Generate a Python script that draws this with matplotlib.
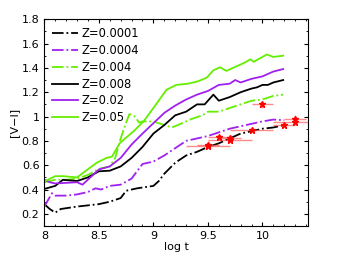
import matplotlib
matplotlib.use("Agg")
import matplotlib.pyplot as plt
from matplotlib.ticker import MultipleLocator

# model colours vs age
t_z0001 = [8.0, 8.05, 8.1, 8.15, 8.3, 8.5, 8.6, 8.7, 8.75, 8.85, 9.0, 9.05, 9.1, 9.2, 9.3,
           9.4, 9.5, 9.6, 9.7, 9.8, 9.9, 10.0, 10.1, 10.2]
vi_z0001 = [0.28, 0.24, 0.21, 0.24, 0.26, 0.28, 0.30, 0.33, 0.39, 0.41, 0.43, 0.47, 0.53, 0.62, 0.68,
            0.71, 0.75, 0.78, 0.82, 0.86, 0.88, 0.90, 0.91, 0.93]

t_z0004 = [8.0, 8.07, 8.1, 8.2, 8.3, 8.4, 8.47, 8.52, 8.6, 8.7, 8.8, 8.85, 8.9, 9.0, 9.1, 9.2,
           9.3, 9.4, 9.5, 9.6, 9.7, 9.8, 9.9, 10.0, 10.1, 10.2]
vi_z0004 = [0.26, 0.37, 0.35, 0.35, 0.36, 0.38, 0.41, 0.40, 0.43, 0.44, 0.49, 0.55, 0.61, 0.63, 0.68, 0.74,
            0.80, 0.82, 0.84, 0.87, 0.90, 0.92, 0.94, 0.96, 0.975, 0.97]

t_z004 = [8.0, 8.1, 8.2, 8.3, 8.4, 8.5, 8.6, 8.65, 8.7, 8.75, 8.78, 8.82, 8.87, 8.9, 9.0, 9.1,
          9.17, 9.25, 9.35, 9.45, 9.5, 9.6, 9.7, 9.8, 9.9, 10.0, 10.1, 10.19]
vi_z004 = [0.46, 0.48, 0.48, 0.49, 0.52, 0.57, 0.59, 0.66, 0.82, 0.95, 1.02, 1.01, 0.95, 0.96, 0.96, 0.93,
           0.91, 0.94, 0.98, 1.01, 1.04, 1.04, 1.07, 1.10, 1.13, 1.14, 1.17, 1.18]

t_z008 = [8.0, 8.1, 8.17, 8.3, 8.4, 8.5, 8.6, 8.7, 8.8, 8.9, 9.0, 9.1, 9.2, 9.3, 9.4, 9.47,
          9.55, 9.6, 9.7, 9.8, 9.9, 9.95, 10.0, 10.05, 10.1, 10.19]
vi_z008 = [0.405, 0.43, 0.48, 0.47, 0.50, 0.55, 0.555, 0.59, 0.66, 0.75, 0.86, 0.93, 1.01, 1.04, 1.10, 1.10,
           1.18, 1.13, 1.16, 1.20, 1.23, 1.24, 1.26, 1.26, 1.28, 1.30]

t_z02 = [8.0, 8.05, 8.1, 8.3, 8.35, 8.5, 8.6, 8.7, 8.8, 8.9, 9.0, 9.1, 9.2, 9.3, 9.4, 9.5,
         9.6, 9.7, 9.75, 9.8, 9.9, 10.0, 10.1, 10.19]
vi_z02 = [0.48, 0.46, 0.45, 0.46, 0.44, 0.565, 0.59, 0.66, 0.77, 0.86, 0.945, 1.03, 1.09, 1.14, 1.18, 1.21,
          1.26, 1.27, 1.30, 1.28, 1.31, 1.33, 1.37, 1.39]

t_z05 = [8.0, 8.1, 8.17, 8.3, 8.48, 8.57, 8.62, 8.69, 8.82, 8.91, 9.0, 9.12, 9.21, 9.32, 9.41, 9.49,
         9.55, 9.61, 9.67, 9.73, 9.83, 9.89, 9.92, 10.04, 10.1, 10.19]
vi_z05 = [0.466, 0.51, 0.51, 0.50, 0.62, 0.66, 0.67, 0.78, 0.88, 0.96, 1.07, 1.22, 1.26, 1.27, 1.29, 1.32,
          1.38, 1.405, 1.375, 1.40, 1.44, 1.47, 1.45, 1.51, 1.49, 1.50]

# observed clusters
obs_t = [9.5, 9.5, 9.6, 9.7, 9.7, 9.9, 10.0, 10.2, 10.3, 10.3]
obs_vi = [0.77, 0.76, 0.83, 0.82, 0.81, 0.89, 1.10, 0.93, 0.98, 0.955]
obs_terr = [0.1, 0.2, 0.1, 0.1, 0.2, 0.2, 0.1, 0.1, 0.1, 0.2]
obs_vierr = [0.03, 0.02, 0.02, 0.03, 0.02, 0.02, 0.03, 0.02, 0.03, 0.02]

green = "#66ee00"
purple = "#a020f0"

fig = plt.figure(figsize=(3.41, 2.56), dpi=100)
ax = fig.add_axes([0.13, 0.117, 0.774, 0.808])

lw = 1.3
ax.plot(t_z0001, vi_z0001, color="black", ls="-.", lw=lw, label="Z=0.0001")
ax.plot(t_z0004, vi_z0004, color=purple, ls="-.", lw=lw, label="Z=0.0004")
ax.plot(t_z004, vi_z004, color=green, ls="-.", lw=lw, label="Z=0.004")
ax.plot(t_z008, vi_z008, color="black", ls="-", lw=lw, label="Z=0.008")
ax.plot(t_z02, vi_z02, color=purple, ls="-", lw=lw, label="Z=0.02")
ax.plot(t_z05, vi_z05, color=green, ls="-", lw=lw, label="Z=0.05")

ax.errorbar(obs_t, obs_vi, xerr=obs_terr, yerr=obs_vierr, fmt="*", color="red",
            ecolor=(1, 0.35, 0.35, 0.7), ms=4.5, elinewidth=1, capsize=0)

ax.set_xlim(8, 10.42)
ax.set_ylim(0.1, 1.8)
ax.xaxis.set_minor_locator(MultipleLocator(0.1))
ax.yaxis.set_minor_locator(MultipleLocator(0.1))
ax.set_xticks([8, 8.5, 9, 9.5, 10])
ax.set_xticklabels(["8", "8.5", "9", "9.5", "10"])
ax.set_yticks([0.2, 0.4, 0.6, 0.8, 1.0, 1.2, 1.4, 1.6, 1.8])
ax.set_yticklabels(["0.2", "0.4", "0.6", "0.8", "1", "1.2", "1.4", "1.6", "1.8"])
ax.tick_params(which="both", direction="in", top=True, right=True, labelsize=8)
ax.tick_params(which="major", length=3)
ax.tick_params(which="minor", length=1.5)

ax.set_xlabel("log t", fontsize=8, labelpad=1)
ax.set_ylabel("[V\u2212I]", fontsize=8, labelpad=2)

ax.legend(loc="upper left", frameon=False, fontsize=8.3, handlelength=2.2,
          handletextpad=0.3, labelspacing=0.33, borderaxespad=0.3)

fig.savefig("out.png", dpi=100)
